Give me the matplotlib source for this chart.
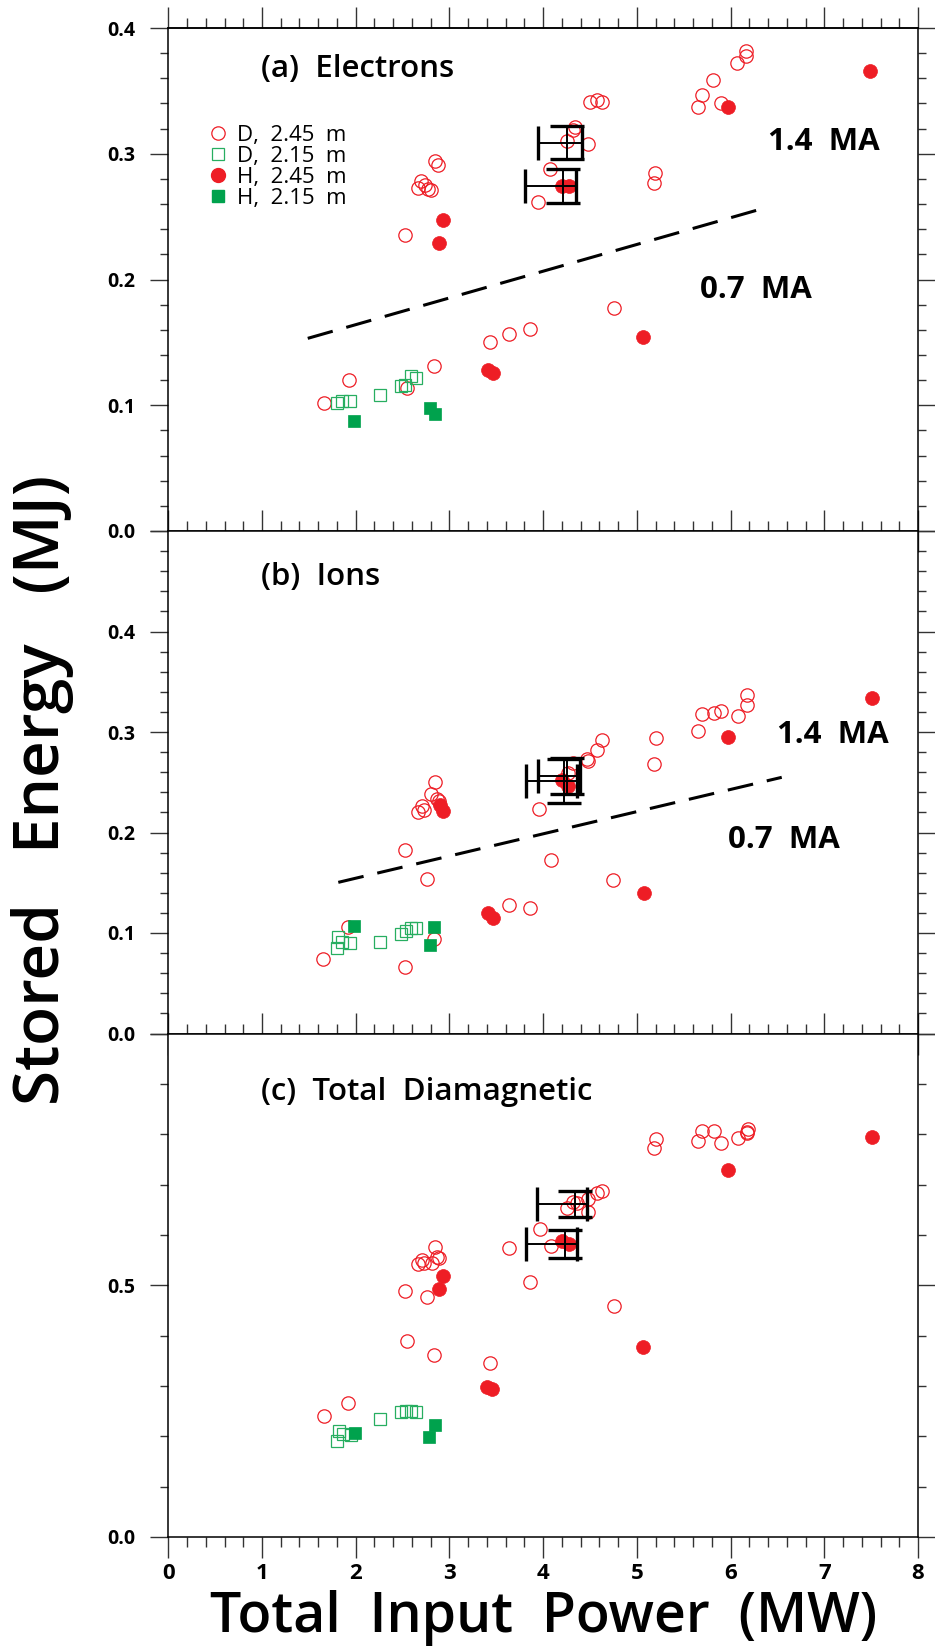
import numpy as np
import matplotlib
matplotlib.use("Agg")
import matplotlib.pyplot as plt
from matplotlib.ticker import MultipleLocator, FixedLocator, NullFormatter
from matplotlib.lines import Line2D

plt.rcParams['font.family'] = ['Open Sans', 'DejaVu Sans']

RED = '#ee1d25'
GREEN = '#00a24d'
GREEN_OPEN = '#27ae60'

# ---- (a) electrons ----
ele_d245_x = [1.665, 1.925, 2.544, 2.839, 3.433, 3.639, 3.86, 4.756, 2.526, 2.668,
              2.70, 2.74, 2.77, 2.80, 2.846, 2.88, 3.948, 4.073, 4.251, 4.322,
              4.34, 4.482, 4.50, 4.57, 4.625, 5.19, 5.186, 5.656, 5.692, 5.816,
              5.898, 6.07, 6.16, 6.16]
ele_d245_y = [0.102, 0.120, 0.1135, 0.1315, 0.150, 0.157, 0.161, 0.177, 0.235, 0.273,
              0.278, 0.275, 0.272, 0.271, 0.294, 0.291, 0.262, 0.288, 0.310, 0.319,
              0.3215, 0.308, 0.341, 0.343, 0.341, 0.2845, 0.277, 0.337, 0.347, 0.359,
              0.340, 0.372, 0.378, 0.382]
ele_d215_x = [1.797, 1.85, 1.939, 2.259, 2.48, 2.526, 2.586, 2.643]
ele_d215_y = [0.102, 0.103, 0.1034, 0.108, 0.115, 0.116, 0.123, 0.122]
ele_h245_x = [2.935, 2.892, 3.416, 3.468, 4.20, 4.28, 5.07, 5.976, 7.49]
ele_h245_y = [0.247, 0.229, 0.128, 0.126, 0.2744, 0.2744, 0.1545, 0.3374, 0.3655]
ele_h215_x = [1.985, 2.793, 2.846]
ele_h215_y = [0.0877, 0.0976, 0.0928]
ele_err_x = [4.251, 4.209]
ele_err_y = [0.3088, 0.2744]
ele_err_xlo = [0.305, 0.403]
ele_err_xhi = [0.161, 0.142]
ele_err_dy = [0.013, 0.0135]
ele_split_x = [1.488, 6.314]
ele_split_y = [0.1532, 0.2558]

# ---- (b) ions ----
ion_d245_x = [1.65, 1.921, 2.53, 2.839, 2.764, 2.526, 2.668, 2.704, 2.732, 2.80,
              2.846, 2.871, 2.892, 3.639, 3.86, 3.959, 4.081, 4.749, 4.269, 4.322,
              4.465, 4.482, 4.57, 4.625, 5.186, 5.201, 5.65, 5.692, 5.823, 5.898,
              6.076, 6.172, 6.172]
ion_d245_y = [0.074, 0.106, 0.066, 0.094, 0.154, 0.183, 0.220, 0.226, 0.222, 0.238,
              0.250, 0.233, 0.231, 0.128, 0.125, 0.223, 0.173, 0.153, 0.259, 0.269,
              0.273, 0.2715, 0.282, 0.292, 0.268, 0.294, 0.301, 0.318, 0.319, 0.321,
              0.316, 0.327, 0.337]
ion_d215_x = [1.797, 1.808, 1.85, 1.939, 2.259, 2.48, 2.537, 2.586, 2.643]
ion_d215_y = [0.085, 0.096, 0.091, 0.090, 0.091, 0.099, 0.102, 0.105, 0.105]
ion_h245_x = [2.90, 2.935, 3.416, 3.468, 4.198, 4.268, 5.08, 5.976, 7.513]
ion_h245_y = [0.227, 0.221, 0.120, 0.115, 0.252, 0.246, 0.140, 0.295, 0.334]
ion_h215_x = [1.985, 2.839, 2.793]
ion_h215_y = [0.107, 0.106, 0.088]
ion_err_x = [4.223, 4.258]
ion_err_y = [0.2512, 0.2562]
ion_err_xlo = [0.406, 0.316]
ion_err_xhi = [0.135, 0.135]
ion_err_dy = [0.022, 0.018]
ion_split_x = [1.814, 6.546]
ion_split_y = [0.1504, 0.2549]

# ---- (c) total diamagnetic ----
tot_d245_x = [1.665, 1.921, 2.544, 2.839, 3.433, 2.526, 2.764, 2.668, 2.704, 2.732,
              2.811, 2.846, 2.864, 2.892, 3.639, 3.86, 3.967, 4.081, 4.756, 4.258,
              4.322, 4.358, 4.475, 4.482, 4.57, 4.625, 5.186, 5.204, 5.656, 5.692,
              5.823, 5.898, 6.076, 6.172, 6.19, 6.172]
tot_d245_y = [0.241, 0.266, 0.390, 0.3615, 0.346, 0.4886, 0.476, 0.5416, 0.5501, 0.5436,
              0.5448, 0.5766, 0.5567, 0.5547, 0.5746, 0.5058, 0.6111, 0.5786, 0.4588, 0.6528,
              0.6659, 0.664, 0.6461, 0.6713, 0.6826, 0.6872, 0.772, 0.790, 0.7865, 0.8064,
              0.8064, 0.7819, 0.7919, 0.805, 0.8097, 0.8018]
tot_d215_x = [1.80, 1.818, 1.863, 1.945, 2.259, 2.48, 2.537, 2.586, 2.643]
tot_d215_y = [0.191, 0.2105, 0.2046, 0.2026, 0.235, 0.248, 0.250, 0.250, 0.249]
tot_h245_x = [2.892, 2.935, 3.40, 3.45, 4.198, 4.279, 5.07, 5.976, 7.513]
tot_h245_y = [0.4919, 0.5184, 0.298, 0.294, 0.5879, 0.5813, 0.378, 0.7289, 0.795]
tot_h215_x = [1.99, 2.785, 2.849]
tot_h215_y = [0.206, 0.199, 0.222]
tot_err_x = [4.34, 4.233]
tot_err_y = [0.6614, 0.5819]
tot_err_xlo = [0.409, 0.416]
tot_err_xhi = [0.125, 0.125]
tot_err_dy = [0.0265, 0.028]

legend_labels = ['D,  2.45  m', 'D,  2.15  m', 'H,  2.45  m', 'H,  2.15  m']

W, H = 935, 1652
fig = plt.figure(figsize=(W / 100, H / 100), dpi=100)

left = 168.3 / W
width = 749.7 / W


def make_axes(top_px, bot_px):
    return fig.add_axes([left, 1 - bot_px / H, width, (bot_px - top_px) / H])


ax_a = make_axes(28, 531)
ax_b = make_axes(531, 1033.5)
ax_c = make_axes(1033.5, 1537)


def scatter_panel(ax, d245, d215, h245, h215):
    ax.plot(*d245, 'o', ms=9.6, mfc='none', mec=RED, mew=0.9, ls='none', zorder=3)
    ax.plot(*d215, 's', ms=8, mfc='none', mec=GREEN_OPEN, mew=0.9, ls='none', zorder=3)
    ax.plot(*h245, 'o', ms=10, mfc=RED, mec=RED, mew=0.5, ls='none', zorder=4)
    ax.plot(*h215, 's', ms=8.4, mfc=GREEN, mec=GREEN, mew=0.5, ls='none', zorder=4)


def error_bars(ax, x, y, xlo, xhi, dy):
    ax.errorbar(x, y, xerr=[xlo, xhi], yerr=dy, fmt='none', ecolor='black',
                elinewidth=1.4, capsize=12, capthick=2.4, zorder=5)


def style_axes(ax, ymax, major, minor, labels, xpos):
    ax.set_xlim(0, 8)
    ax.set_ylim(0, ymax)
    for sp in ax.spines.values():
        sp.set_linewidth(1.1)
    ax.xaxis.set_major_locator(MultipleLocator(1))
    ax.xaxis.set_minor_locator(MultipleLocator(0.2))
    ax.yaxis.set_major_locator(FixedLocator(major))
    ax.yaxis.set_minor_locator(MultipleLocator(minor))
    ax.set_yticklabels(labels)
    ax.tick_params(axis='y', which='both', direction='out', left=True, right=True,
                   labelsize=14, pad=11, width=1.0, colors='#333333', labelcolor='black')
    ax.tick_params(axis='y', which='major', length=13)
    ax.tick_params(axis='y', which='minor', length=6)
    ax.tick_params(axis='x', which='both', direction=xpos, top=False, bottom=True,
                   width=1.0, colors='#333333', labelcolor='black')
    ax.tick_params(axis='x', which='major', length=15 if xpos == 'out' else 30)
    ax.tick_params(axis='x', which='minor', length=7.5 if xpos == 'out' else 15)
    for lab in ax.get_yticklabels():
        lab.set_fontweight('bold')


scatter_panel(ax_a, (ele_d245_x, ele_d245_y), (ele_d215_x, ele_d215_y),
              (ele_h245_x, ele_h245_y), (ele_h215_x, ele_h215_y))
error_bars(ax_a, ele_err_x, ele_err_y, ele_err_xlo, ele_err_xhi, ele_err_dy)
ax_a.plot(ele_split_x, ele_split_y, color='black', lw=2.2, dashes=(8.5, 4.6))

scatter_panel(ax_b, (ion_d245_x, ion_d245_y), (ion_d215_x, ion_d215_y),
              (ion_h245_x, ion_h245_y), (ion_h215_x, ion_h215_y))
error_bars(ax_b, ion_err_x, ion_err_y, ion_err_xlo, ion_err_xhi, ion_err_dy)
ax_b.plot(ion_split_x, ion_split_y, color='black', lw=2.2, dashes=(8.5, 4.6))

scatter_panel(ax_c, (tot_d245_x, tot_d245_y), (tot_d215_x, tot_d215_y),
              (tot_h245_x, tot_h245_y), (tot_h215_x, tot_h215_y))
error_bars(ax_c, tot_err_x, tot_err_y, tot_err_xlo, tot_err_xhi, tot_err_dy)

style_axes(ax_a, 0.4, [0, 0.1, 0.2, 0.3, 0.4], 0.02,
           ['0.0', '0.1', '0.2', '0.3', '0.4'], 'inout')
style_axes(ax_b, 0.5, [0, 0.1, 0.2, 0.3, 0.4, 0.5], 0.02,
           ['0.0', '0.1', '0.2', '0.3', '0.4', ''], 'inout')
style_axes(ax_c, 1.0, [0, 0.5, 1.0], 0.1, ['0.0', '0.5', ''], 'out')

for ax in (ax_a, ax_b):
    ax.xaxis.set_major_formatter(NullFormatter())

# top ticks of the upper panel point outward only
top = ax_a.secondary_xaxis('top')
top.xaxis.set_major_locator(MultipleLocator(1))
top.xaxis.set_minor_locator(MultipleLocator(0.2))
top.xaxis.set_major_formatter(NullFormatter())
top.tick_params(which='both', direction='out', width=1.0, colors='#333333')
top.tick_params(which='major', length=15)
top.tick_params(which='minor', length=7.5)
top.spines['top'].set_linewidth(1.1)

ax_c.tick_params(axis='x', labelsize=16, pad=4)
for lab in ax_c.get_xticklabels():
    lab.set_fontweight('bold')

# panel titles and current labels
title_kw = dict(fontsize=22.5, fontweight='semibold', va='center', ha='left')
ax_a.text(0.1237, 0.9185, '(a)  Electrons', transform=ax_a.transAxes, **title_kw)
ax_b.text(0.1237, 0.9085, '(b)  Ions', transform=ax_b.transAxes, **title_kw)
ax_c.text(0.1237, 0.8838, '(c)  Total  Diamagnetic', transform=ax_c.transAxes, **title_kw)

ma_kw = dict(fontsize=22.5, fontweight='bold', va='center')
ax_a.text(6.40, 0.3093, '1.4  MA', **ma_kw)
ax_a.text(5.674, 0.1917, '0.7  MA', **ma_kw)
ax_b.text(6.495, 0.297, '1.4  MA', **ma_kw)
ax_b.text(5.972, 0.1925, '0.7  MA', **ma_kw)

handles = [
    Line2D([], [], marker='o', ls='none', ms=9.6, mfc='none', mec=RED, mew=0.9),
    Line2D([], [], marker='s', ls='none', ms=8, mfc='none', mec=GREEN_OPEN, mew=0.9),
    Line2D([], [], marker='o', ls='none', ms=10, mfc=RED, mec=RED),
    Line2D([], [], marker='s', ls='none', ms=8.4, mfc=GREEN, mec=GREEN),
]
ax_a.legend(handles, legend_labels, loc='upper left', bbox_to_anchor=(0.052, 0.808),
            frameon=False, fontsize=16, handlelength=0.95, handletextpad=0.4,
            labelspacing=0.0, borderpad=0, borderaxespad=0)

fig.text(0.045, 0.522, 'Stored   Energy   (MJ)', rotation=90, fontsize=46,
         fontweight='semibold', ha='center', va='center')
fig.text(0.581, 0.0206, 'Total  Input  Power  (MW)', fontsize=40,
         fontweight='semibold', ha='center', va='center')

fig.savefig('out.png', dpi=100)
